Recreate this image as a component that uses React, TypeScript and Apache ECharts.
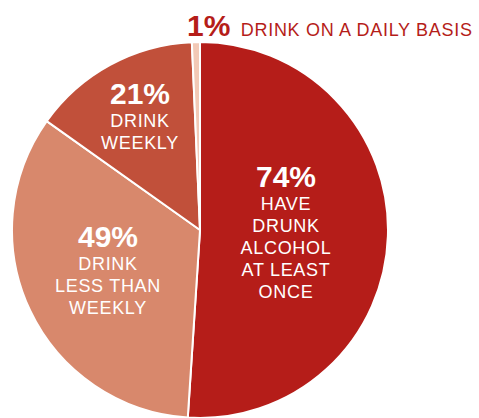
import React, { useEffect, useRef } from "react";
import * as echarts from "echarts";

const categories = [
  "HAVE DRUNK ALCOHOL AT LEAST ONCE",
  "DRINK LESS THAN WEEKLY",
  "DRINK WEEKLY",
  "DRINK ON A DAILY BASIS",
];
const values = [74, 49, 21, 1];
const labelLines = [
  ["HAVE", "DRUNK", "ALCOHOL", "AT LEAST", "ONCE"],
  ["DRINK", "LESS THAN", "WEEKLY"],
  ["DRINK", "WEEKLY"],
  ["DRINK ON A DAILY BASIS"],
];
const colors = ["#B51D19", "#D8886C", "#C1503A", "#F2C9B6"];

const FONT = "'Liberation Sans', Arial, Helvetica, sans-serif";
const RED_TEXT = "#B51D19";

export default function App() {
  const ref = useRef<HTMLDivElement>(null);

  useEffect(() => {
    if (!ref.current) return;
    const chart = echarts.init(ref.current, undefined, { renderer: "svg" });

    const labelPos = [
      { x: 286, y: 232, align: "center", verticalAlign: "middle" },
      { x: 108, y: 270, align: "center", verticalAlign: "middle" },
      { x: 140, y: 116, align: "center", verticalAlign: "middle" },
      { x: 187, y: 25, align: "left", verticalAlign: "middle" },
    ];

    const data = values.map((v, i) => {
      const outside = i === 3;
      return {
        name: categories[i],
        value: v,
        itemStyle: { color: colors[i] },
        label: outside
          ? {
              formatter: `{p|${v}%}{t|${labelLines[i].join(" ")}}`,
              rich: {
                p: {
                  fontFamily: FONT,
                  fontWeight: "bold",
                  fontSize: 30,
                  lineHeight: 32,
                  color: RED_TEXT,
                },
                t: {
                  fontFamily: FONT,
                  fontSize: 18,
                  lineHeight: 32,
                  color: RED_TEXT,
                  padding: [9, 0, 0, 17],
                },
              },
            }
          : {
              formatter: `{p|${v}%}\n{t|${labelLines[i].join("\n")}}`,
            },
      };
    });

    chart.setOption({
      animation: false,
      series: [
        {
          type: "pie",
          center: [200, 230],
          radius: 188,
          startAngle: 90,
          clockwise: true,
          avoidLabelOverlap: false,
          silent: true,
          itemStyle: { borderColor: "#ffffff", borderWidth: 2 },
          emphasis: { disabled: true },
          labelLine: { show: false },
          label: {
            show: true,
            position: "inside",
            color: "#ffffff",
            fontFamily: FONT,
            rich: {
              p: {
                fontFamily: FONT,
                fontWeight: "bold",
                fontSize: 30,
                lineHeight: 32,
                color: "#ffffff",
                align: "center",
              },
              t: {
                fontFamily: FONT,
                fontSize: 18,
                lineHeight: 22.2,
                color: "#ffffff",
                align: "center",
              },
            },
          },
          labelLayout: (params: any) => {
            const p = labelPos[params.dataIndex];
            return { ...p, moveOverlap: false, hideOverlap: false };
          },
          data,
        },
      ],
    });

    return () => chart.dispose();
  }, []);

  return (
    <>
      <style>{`#root svg text { letter-spacing: 0.7px; } #root svg text[style*="bold"] { letter-spacing: 0; }`}</style>
      <div
        ref={ref}
        style={{ position: "absolute", left: 0, top: 0, width: 479, height: 418 }}
      />
    </>
  );
}
